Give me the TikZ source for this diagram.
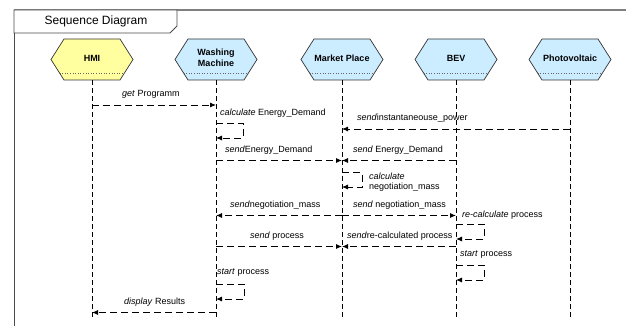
\documentclass[tikz,border=0pt]{standalone}
\usepackage{fontspec}
\setmainfont{Liberation Sans}
\usetikzlibrary{arrows.meta}
\definecolor{hmiyellow}{RGB}{255,255,160}
\definecolor{headblue}{RGB}{204,236,255}
\definecolor{framegrey}{RGB}{128,128,128}
\tikzset{
 lifeline/.style={draw=black, line width=0.8pt, dash pattern=on 5pt off 3pt},
 msg/.style={draw=black, line width=0.9pt, dash pattern=on 7pt off 4pt, -{Latex[length=6pt,width=5pt]}},
 lbl/.style={anchor=west, inner sep=0pt, font=\fontsize{9}{10.5}\selectfont},
 headtext/.style={font=\fontsize{9}{11}\selectfont\bfseries, align=center, inner sep=0pt},
 headbox/.style={minimum width=82pt, minimum height=41pt, inner sep=0pt},
 hexline/.style={draw=black!80, line width=0.7pt},
}
\newcommand\lifehead[4]{%
  \path[hexline, fill=#3] (#2-41,59.5) -- (#2-28,39) -- (#2+28,39) -- (#2+41,59.5) -- (#2+28,80) -- (#2-28,80) -- cycle;
  \draw[black!60, dotted, line width=0.6pt] (#2-32.4,73) -- (#2+32.4,73);
  \node[headbox] (#1) at (#2,59.5) {};
  \node[headtext] (#1-t) at (#2,58) {#4};
  \draw[lifeline] (#1.south) -- ++(0,237);
}
\begin{document}
\begin{tikzpicture}[x=1pt,y=-1pt]
\useasboundingbox[fill=white] (0,0) rectangle (626,326);
% frame
\draw[framegrey, line width=1.8pt] (14,10) -- (640,10);
\draw[black!70, line width=0.9pt] (14,10) -- (14,340);
\draw[black!70, line width=0.8pt, fill=white] (14,10) -- (177,10) -- (177,26) -- (170,33) -- (14,33) -- cycle;
\node[font=\fontsize{12}{14}\selectfont, inner sep=0pt] (title) at (96,21.5) {Sequence Diagram};
% lifelines
\lifehead{hmi}{92}{hmiyellow}{HMI}
\lifehead{wm}{216}{headblue}{Washing\\Machine}
\lifehead{mp}{342}{headblue}{Market Place}
\lifehead{bev}{456}{headblue}{BEV}
\lifehead{pv}{570}{headblue}{Photovoltaic}
% message levels
\coordinate (y1) at (0,105);
\coordinate (y2) at (0,123);
\coordinate (y3) at (0,129);
\coordinate (y4) at (0,160.5);
\coordinate (y5) at (0,172.5);
\coordinate (y6) at (0,215.5);
\coordinate (y7) at (0,224);
\coordinate (y8) at (0,246.5);
\coordinate (y9) at (0,265);
\coordinate (y10) at (0,284);
\coordinate (y11) at (0,312.5);
% messages
\draw[msg] (hmi.south |- y1) -- (wm.south |- y1);
\node[lbl] (l1) at (122,94) {\textit{get} Programm};
\draw[msg] (wm.south |- y2) -- ++(27,0) |- ++(-27,15);
\node[lbl] (l2) at (220,113) {\textit{calculate} Energy\_Demand};
\draw[msg] (pv.south |- y3) -- (mp.south |- y3);
\node[lbl] (l3) at (357,118) {\textit{send}instantaneouse\_power};
\draw[msg] (wm.south |- y4) -- (mp.south |- y4);
\node[lbl] (l4) at (225,150) {\textit{send}Energy\_Demand};
\draw[msg] (bev.south |- y4) -- (mp.south |- y4);
\node[lbl] (l5) at (353,150) {\textit{send} Energy\_Demand};
\draw[msg] (mp.south |- y5) -- ++(20,0) |- ++(-20,14.5);
\node[lbl] (l6a) at (369,176.5) {\textit{calculate}};
\node[lbl] (l6b) at (369,187) {negotiation\_mass};
\draw[msg] (mp.south |- y6) -- (wm.south |- y6);
\node[lbl] (l7) at (230,205.5) {\textit{send}negotiation\_mass};
\draw[msg] (mp.south |- y6) -- (bev.south |- y6);
\node[lbl] (l8) at (353,205) {\textit{send} negotiation\_mass};
\draw[msg] (bev.south |- y7) -- ++(28,0) |- ++(-28,15);
\node[lbl] (l9) at (462,215) {\textit{re-calculate} process};
\draw[msg] (wm.south |- y8) -- (mp.south |- y8);
\node[lbl] (l10) at (250,236) {\textit{send} process};
\draw[msg] (bev.south |- y8) -- (mp.south |- y8);
\node[lbl] (l11) at (347,236) {\textit{send}re-calculated process};
\draw[msg] (bev.south |- y9) -- ++(28,0) |- ++(-28,15);
\node[lbl] (l12) at (460,255) {\textit{start} process};
\draw[msg] (wm.south |- y10) -- ++(28,0) |- ++(-28,15);
\node[lbl] (l13) at (217,273) {\textit{start} process};
\draw[msg] (wm.south |- y11) -- (hmi.south |- y11);
\node[lbl] (l14) at (124,302) {\textit{display} Results};
\end{tikzpicture}
\end{document}
